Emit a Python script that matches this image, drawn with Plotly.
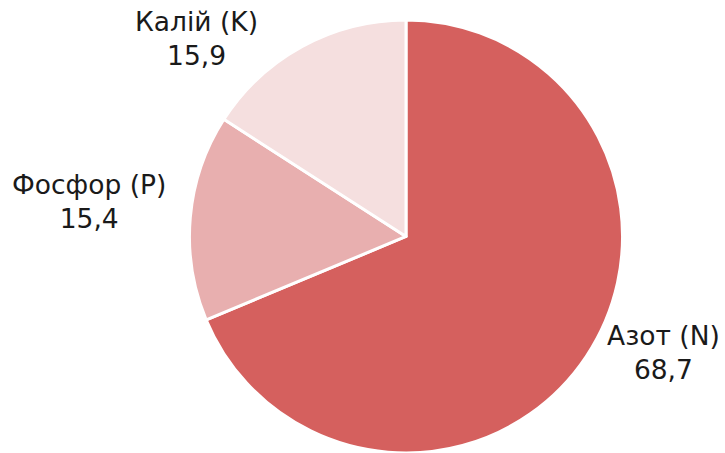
import plotly.graph_objects as go

labels = ["Азот (N)", "Фосфор (P)", "Калій (K)"]
values = [68.7, 15.4, 15.9]
value_text = ["68,7", "15,4", "15,9"]
colors = ["#D5605E", "#E8AFAF", "#F5DFDF"]

# label anchor positions (paper coords, centre of text block)
label_x = [0.915, 0.123, 0.271]
label_y = [0.222, 0.556, 0.916]

fig = go.Figure(go.Pie(
    labels=labels,
    values=values,
    text=value_text,
    textinfo="none",
    sort=False,
    direction="clockwise",
    rotation=0,
    marker=dict(colors=colors, line=dict(color="white", width=3)),
    showlegend=False,
    domain=dict(x=[0.2607, 0.8593], y=[0.0, 0.956]),
    hoverinfo="label+text",
))

for lab, txt, x, y in zip(labels, value_text, label_x, label_y):
    fig.add_annotation(
        x=x, y=y, xref="paper", yref="paper",
        text=f"{lab}<br>{txt}", showarrow=False,
        xanchor="center", yanchor="middle", align="center",
        font=dict(family="DejaVu Sans", size=26.5, color="#1a1a1a"),
    )

fig.update_layout(
    width=725, height=453,
    margin=dict(l=0, r=0, t=0, b=0),
    paper_bgcolor="white",
    font=dict(family="DejaVu Sans"),
)

fig.write_html("out.html", config={"displayModeBar": False},
               post_script="document.body.style.margin='0';")
